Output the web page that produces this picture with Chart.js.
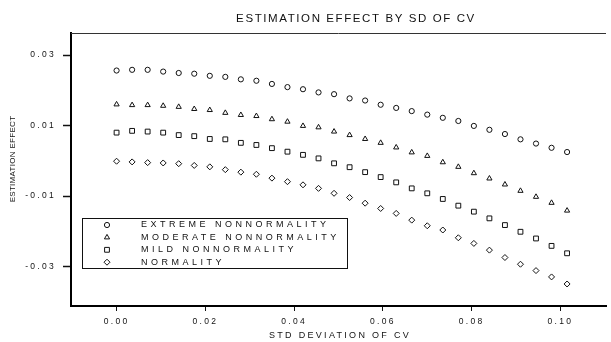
<!DOCTYPE html>
<html>
<head>
<meta charset="utf-8">
<script src="https://cdn.jsdelivr.net/npm/chart.js@4.4.1/dist/chart.umd.min.js"></script>
<style>
  html, body { margin: 0; padding: 0; background: #fff; }
  #wrap { width: 611px; height: 342px; }
</style>
</head>
<body>
<div id="wrap"><canvas id="chart" width="611" height="342"></canvas></div>
<script>
const seriesNames = ["EXTREME NONNORMALITY", "MODERATE NONNORMALITY", "MILD NONNORMALITY", "NORMALITY"];
const seriesMarkers = ["circle", "triangle", "rect", "rectRot"];

const sdValues = [0, 0.0035, 0.007, 0.0105, 0.014, 0.0175, 0.021, 0.0245, 0.028, 0.0315,
  0.035, 0.0385, 0.042, 0.0455, 0.049, 0.0525, 0.056, 0.0595, 0.063, 0.0665,
  0.07, 0.0735, 0.077, 0.0805, 0.084, 0.0875, 0.091, 0.0945, 0.098, 0.1015];

const extreme = [0.0256, 0.0258, 0.0258, 0.0253, 0.0249, 0.0247, 0.0241, 0.0238, 0.0231, 0.0227,
  0.0218, 0.0209, 0.0203, 0.0194, 0.0189, 0.0177, 0.0171, 0.0159, 0.0150, 0.0141,
  0.0131, 0.0122, 0.0113, 0.0099, 0.0088, 0.0076, 0.0061, 0.0049, 0.0037, 0.0025];

const moderate = [0.0160, 0.0158, 0.0158, 0.0156, 0.0153, 0.0147, 0.0144, 0.0136, 0.0130, 0.0127,
  0.0118, 0.0111, 0.0099, 0.0095, 0.0083, 0.0073, 0.0062, 0.0051, 0.0038, 0.0024,
  0.0014, -0.0004, -0.0017, -0.0035, -0.0050, -0.0067, -0.0085, -0.0102, -0.0119, -0.0141];

const mild = [0.0080, 0.0085, 0.0083, 0.0080, 0.0073, 0.0070, 0.0062, 0.0061, 0.0051, 0.0045,
  0.0036, 0.0026, 0.0017, 0.0007, -0.0007, -0.0018, -0.0032, -0.0046, -0.0061, -0.0078,
  -0.0092, -0.0108, -0.0127, -0.0144, -0.0163, -0.0182, -0.0201, -0.0220, -0.0241, -0.0262];

const normality = [-0.0001, -0.0003, -0.0005, -0.0006, -0.0008, -0.0013, -0.0017, -0.0025, -0.0032, -0.0038,
  -0.0049, -0.0059, -0.0068, -0.0078, -0.0092, -0.0104, -0.0120, -0.0135, -0.0149, -0.0168,
  -0.0184, -0.0196, -0.0218, -0.0234, -0.0253, -0.0274, -0.0293, -0.0311, -0.0329, -0.0349];

const xTicks = [0, 0.02, 0.04, 0.06, 0.08, 0.10];
const xTickLabels = ["0.00", "0.02", "0.04", "0.06", "0.08", "0.10"];
const yTicks = [-0.03, -0.01, 0.01, 0.03];
const yTickLabels = ["-0.03", "-0.01", "0.01", "0.03"];

const FONT = "'Liberation Sans', Arial, Helvetica, sans-serif";
const INK = "#111";

const allSeries = [extreme, moderate, mild, normality];
const datasets = allSeries.map((vals, i) => ({
  label: seriesNames[i],
  data: vals.map((v, j) => ({ x: sdValues[j], y: v })),
  showLine: false,
  pointStyle: seriesMarkers[i],
  pointRadius: [2.6, 3, 3.4, 3][i],
  pointBackgroundColor: "#fff",
  pointBorderColor: INK,
  pointBorderWidth: 1,
}));

const framePlugin = {
  id: "frame",
  beforeDraw(chart) {
    chart.ctx.letterSpacing = "2.3px";
  },
  afterDraw(chart) {
    const ctx = chart.ctx;
    const area = chart.chartArea;
    ctx.save();
    // top border of the plot frame
    ctx.strokeStyle = "#333";
    ctx.lineWidth = 1;
    ctx.beginPath();
    ctx.moveTo(area.left, area.top + 0.5);
    ctx.lineTo(area.right, area.top + 0.5);
    ctx.stroke();

    ctx.fillStyle = INK;
    ctx.textBaseline = "middle";
    ctx.textAlign = "center";

    // main title
    ctx.font = "11.5px " + FONT;
    ctx.letterSpacing = "1.6px";
    ctx.fillText("ESTIMATION EFFECT BY SD OF CV", 356, 19);

    // x axis title
    ctx.font = "9px " + FONT;
    ctx.letterSpacing = "2.3px";
    ctx.fillText("STD DEVIATION OF CV", 340, 336);

    // y axis title
    ctx.save();
    ctx.translate(13, 159);
    ctx.rotate(-Math.PI / 2);
    ctx.font = "8px 'Liberation Sans Narrow', " + FONT;
    ctx.letterSpacing = "0.3px";
    ctx.fillText("ESTIMATION EFFECT", 0, 0);
    ctx.restore();

    // legend box
    const lx = 82, ly = 218.5, lw = 265, lh = 50;
    ctx.strokeStyle = INK;
    ctx.lineWidth = 1;
    ctx.strokeRect(lx + 0.5, ly, lw, lh);
    ctx.font = "9px " + FONT;
    ctx.letterSpacing = "3.5px";
    ctx.textAlign = "left";
    seriesNames.forEach((name, i) => {
      const y = 225 + i * 12.4;
      const ds = chart.data.datasets[i];
      ctx.fillStyle = "#fff";
      ctx.strokeStyle = INK;
      ctx.lineWidth = 1;
      Chart.helpers.drawPoint(ctx, { pointStyle: ds.pointStyle, radius: ds.pointRadius, borderWidth: 1, rotation: 0 }, 107, y);
      ctx.fillStyle = INK;
      ctx.fillText(name, 141, y);
    });
    ctx.restore();
  },
};

new Chart(document.getElementById("chart"), {
  type: "scatter",
  data: { datasets },
  options: {
    responsive: false,
    animation: false,
    layout: { padding: { top: 33, right: 0, left: 0, bottom: 0 } },
    plugins: {
      legend: { display: false },
      tooltip: { enabled: false },
      title: { display: false },
    },
    scales: {
      x: {
        type: "linear",
        min: -0.010268,
        max: 0.110268,
        afterBuildTicks: (s) => { s.ticks = xTicks.map((v) => ({ value: v })); },
        afterFit: (s) => { s.height = 36; },
        ticks: {
          callback: (v, i) => xTickLabels[i],
          font: { family: FONT, size: 8.5 },
          color: INK,
          padding: 6,
          maxRotation: 0,
          autoSkip: false,
        },
        grid: { drawOnChartArea: false, drawTicks: true, tickLength: 5, color: INK, tickWidth: 1 },
        border: { color: "#000", width: 2 },
      },
      y: {
        type: "linear",
        min: -0.041139,
        max: 0.036236,
        afterBuildTicks: (s) => { s.ticks = yTicks.map((v) => ({ value: v })); },
        afterFit: (s) => { s.width = 71; },
        ticks: {
          callback: (v, i) => yTickLabels[i],
          font: { family: FONT, size: 8.5 },
          color: INK,
          padding: 7,
          autoSkip: false,
        },
        grid: { drawOnChartArea: false, drawTicks: true, tickLength: 8, color: INK, tickWidth: 1.5 },
        border: { color: "#000", width: 2 },
      },
    },
  },
  plugins: [framePlugin],
});
</script>
</body>
</html>
